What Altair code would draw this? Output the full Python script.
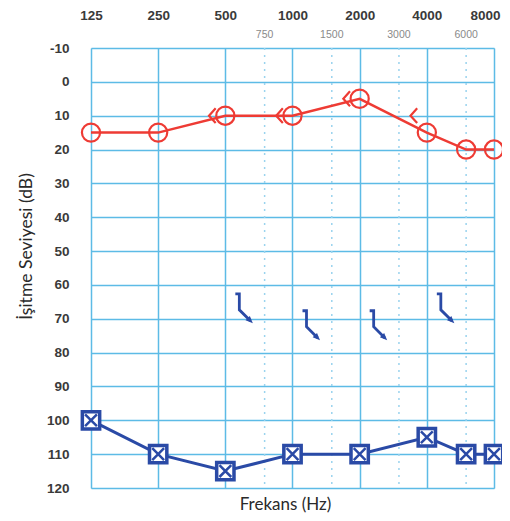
import altair as alt
import pandas as pd

freqs = [125, 250, 500, 1000, 2000, 4000, 6000, 8000]
right_air = [15, 15, 10, 10, 5, 15, 20, 20]
left_air = [100, 110, 115, 110, 110, 105, 110, 110]
bone_freqs = [500, 1000, 2000, 4000]
right_bone = [10, 10, 5, 10]
left_bone_nr = [65, 70, 70, 65]
major_ticks = [125, 250, 500, 1000, 2000, 4000, 8000]
minor_ticks = [750, 1500, 3000, 6000]
y_ticks = list(range(-10, 121, 10))

RED = "#EE3B34"
BLUE = "#2A4AA6"
GRID = "#5DBBE6"

air = pd.DataFrame({"f": freqs, "R": right_air, "L": left_air})
bone = pd.DataFrame({"f": bone_freqs, "R": right_bone, "L": left_bone_nr})
minor = pd.DataFrame({"f": minor_ticks, "lab": [str(v) for v in minor_ticks]})

xscale = alt.Scale(type="log", base=2, domain=[125, 8000], nice=False)
yscale = alt.Scale(domain=[-10, 120], reverse=True, nice=False)

xax = alt.Axis(orient="top", values=major_ticks, format="d", title=None,
               labelFont="Liberation Sans", labelFontSize=13.5, labelFontWeight="bold",
               labelColor="#3a3a3a", labelPadding=26, ticks=False, domain=False,
               grid=True, gridColor=GRID, gridWidth=1.5, labelFlush=False,
               labelOverlap=False,
               labelOffset={"condition": {"test": "datum.value == 8000", "value": -9}, "value": 0})
yax = alt.Axis(values=y_ticks, tickCount=14, title="İşitme Seviyesi (dB)", titleFont="Lato",
               titleFontSize=17.5, titleFontWeight="normal", titleColor="#2a2a2a",
               titlePadding=11, titleY=198, labelFont="Liberation Sans", labelFontSize=13.5,
               labelFontWeight="bold", labelColor="#3a3a3a", labelPadding=22,
               labelExpr="'' + datum.value", labelOverlap=False, labelSeparation=0,
               ticks=False, domain=False, grid=True, gridColor=GRID, gridWidth=1.5)

X = alt.X("f:Q", scale=xscale, axis=xax)
YR = alt.Y("R:Q", scale=yscale, axis=yax)
YL = alt.Y("L:Q", scale=yscale, axis=yax)

base_air = alt.Chart(air)

minor_grid = alt.Chart(minor).mark_rule(color="#9AD3EE", strokeWidth=1.5, strokeDash=[2, 5]).encode(
    x=X
)
minor_lab = alt.Chart(minor).mark_text(fontSize=10.5, color="#8a8a8a", font="Liberation Sans",
                                       baseline="middle").encode(
    x=X, y=alt.value(-13), text="lab:N"
)

red_line = base_air.mark_line(color=RED, strokeWidth=2.5).encode(x=X, y=YR)
red_pts = base_air.mark_point(shape="circle", size=330, color=RED, filled=False,
                              strokeWidth=2.2, opacity=1).encode(x=X, y=YR)
red_bone = alt.Chart(bone).mark_point(shape="M 0.45 -1 L -0.45 0 L 0.45 1", size=220,
                                      color=RED, filled=False, strokeWidth=2.2, xOffset=-13,
                                      opacity=1).encode(x=X, y=YR)

blue_line = base_air.mark_line(color=BLUE, strokeWidth=3).encode(x=X, y=YL)
blue_sq = base_air.mark_point(shape="square", size=300, fill="white", stroke=BLUE,
                              strokeWidth=3.5, filled=False, opacity=1, fillOpacity=1).encode(x=X, y=YL)
blue_x = base_air.mark_point(shape="M -1 -1 L 1 1 M -1 1 L 1 -1", size=140, color=BLUE,
                             filled=False, strokeWidth=2.5, opacity=1).encode(x=X, y=YL)

arrow_line = alt.Chart(bone).mark_point(
    shape="M -0.4 -0.8 L 0 -0.8 L 0 0.8 L 1.1 1.9", size=400, color=BLUE,
    filled=False, strokeWidth=2.8, xOffset=14, opacity=1).encode(x=X, y=YL)
arrow_head = alt.Chart(bone).mark_point(
    shape="M 1.35 2.15 L 0.62 1.85 L 1.05 1.42 Z", size=400, color=BLUE,
    filled=True, strokeWidth=1, xOffset=14, opacity=1).encode(x=X, y=YL)

chart = alt.layer(
    minor_grid, minor_lab, red_line, red_pts, red_bone,
    blue_line, blue_sq, blue_x, arrow_line, arrow_head
).properties(
    width=403, height=440,
    autosize=alt.AutoSizeParams(type="none"),
    padding={"left": 83, "top": 40, "right": 8, "bottom": 25},
    title=alt.TitleParams("Frekans (Hz)", orient="bottom", anchor="middle", font="Lato",
                          fontSize=17, fontWeight="normal", color="#2a2a2a", offset=2, dx=-7),
).configure_view(stroke=GRID, strokeWidth=1.5).configure(background="white")

chart.save("out.html", embed_options={"renderer": "svg", "actions": False})
